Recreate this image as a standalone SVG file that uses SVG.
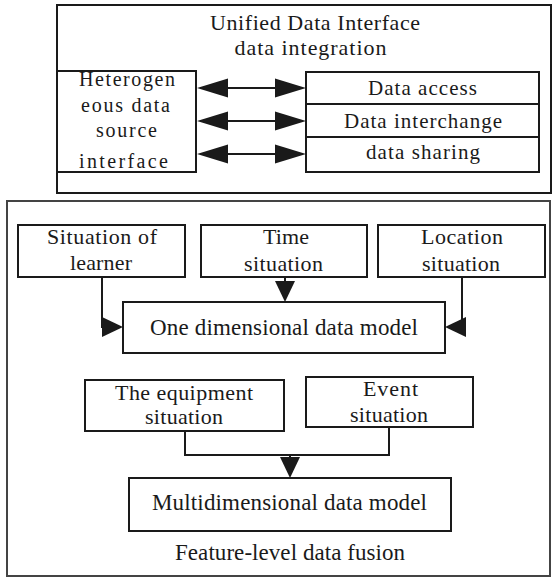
<svg xmlns="http://www.w3.org/2000/svg" width="553" height="578" viewBox="0 0 553 578">
  <style>
    .box { fill: #ffffff; stroke: #1a1a1a; stroke-width: 2; }
    .frame { fill: none; stroke: #1a1a1a; stroke-width: 2; }
    .frame2 { fill: none; stroke: #444444; stroke-width: 2; }
    .conn { fill: none; stroke: #1a1a1a; stroke-width: 2; }
    text { font-family: "Liberation Serif", "Times New Roman", serif; fill: #1a1a1a; text-anchor: middle; }
    .t22 { font-size: 22px; }
    .t23 { font-size: 23px; }
    .t21 { font-size: 21px; }
    .t20 { font-size: 20px; }
  </style>
  <defs>
    <marker id="headBig" markerUnits="userSpaceOnUse" markerWidth="31" markerHeight="19" refX="28" refY="9.5" orient="auto-start-reverse" overflow="visible">
      <path d="M0,0 L31,9.5 L0,19 Z" fill="#1a1a1a"/>
    </marker>
    <marker id="head" markerUnits="userSpaceOnUse" markerWidth="21" markerHeight="20" refX="18" refY="10" orient="auto" overflow="visible">
      <path d="M0,0 L21,10 L0,20 Z" fill="#1a1a1a"/>
    </marker>
  </defs>

  <!-- upper block: unified data interface -->
  <g id="integration">
    <rect class="frame" x="57" y="5" width="494" height="188"/>
    <text class="t22" x="315" y="30" textLength="210" lengthAdjust="spacing">Unified Data Interface</text>
    <text class="t22" x="310.5" y="55" textLength="152" lengthAdjust="spacing">data integration</text>
  </g>

  <g id="heterogeneous">
    <rect class="box" x="57" y="71" width="139" height="101"/>
    <text class="t20" x="127" y="86" textLength="96" lengthAdjust="spacing">Heterogen</text>
    <text class="t20" x="125.5" y="112" textLength="89" lengthAdjust="spacing">eous data</text>
    <text class="t20" x="126.5" y="137" textLength="61" lengthAdjust="spacing">source</text>
    <text class="t20" x="123.5" y="168" textLength="89" lengthAdjust="spacing">interface</text>
  </g>

  <g id="data-access">
    <rect class="box" x="306" y="72" width="233" height="32"/>
    <text class="t21" x="422.5" y="95" textLength="109" lengthAdjust="spacing">Data access</text>
  </g>
  <g id="data-interchange">
    <rect class="box" x="306" y="104" width="233" height="33"/>
    <text class="t21" x="423" y="128" textLength="158" lengthAdjust="spacing">Data interchange</text>
  </g>
  <g id="data-sharing">
    <rect class="box" x="306" y="137" width="233" height="35"/>
    <text class="t21" x="423" y="159" textLength="114" lengthAdjust="spacing">data sharing</text>
  </g>

  <!-- lower block: feature-level fusion -->
  <g id="fusion">
    <rect class="frame2" x="7" y="201" width="543" height="375"/>
    <text class="t23" x="290" y="560" textLength="230" lengthAdjust="spacing">Feature-level data fusion</text>
  </g>

  <g id="learner">
    <rect class="box" x="18" y="225" width="167" height="52"/>
    <text class="t22" x="102" y="244" textLength="110" lengthAdjust="spacing">Situation of</text>
    <text class="t22" x="101" y="270" textLength="62" lengthAdjust="spacing">learner</text>
  </g>
  <g id="time">
    <rect class="box" x="201" y="225" width="166" height="52"/>
    <text class="t22" x="286" y="244" textLength="46" lengthAdjust="spacing">Time</text>
    <text class="t22" x="283.5" y="271" textLength="79" lengthAdjust="spacing">situation</text>
  </g>
  <g id="location">
    <rect class="box" x="378" y="225" width="167" height="52"/>
    <text class="t22" x="462" y="244" textLength="82" lengthAdjust="spacing">Location</text>
    <text class="t22" x="461" y="271" textLength="78" lengthAdjust="spacing">situation</text>
  </g>
  <g id="one-dimensional">
    <rect class="box" x="123" y="302" width="322" height="51"/>
    <text class="t23" x="284" y="335" textLength="268" lengthAdjust="spacing">One dimensional data model</text>
  </g>
  <g id="equipment">
    <rect class="box" x="85" y="380" width="199" height="51"/>
    <text class="t22" x="184" y="400" textLength="138" lengthAdjust="spacing">The equipment</text>
    <text class="t22" x="184" y="424" textLength="78" lengthAdjust="spacing">situation</text>
  </g>
  <g id="event">
    <rect class="box" x="306" y="377" width="167" height="50"/>
    <text class="t22" x="390.5" y="396" textLength="55" lengthAdjust="spacing">Event</text>
    <text class="t22" x="389" y="422" textLength="78" lengthAdjust="spacing">situation</text>
  </g>
  <g id="multidimensional">
    <rect class="box" x="129" y="478" width="322" height="53"/>
    <text class="t23" x="289.5" y="510" textLength="275" lengthAdjust="spacing">Multidimensional data model</text>
  </g>

  <g id="connectors">
    <path class="conn" d="M200,88 H303" marker-start="url(#headBig)" marker-end="url(#headBig)"/>
    <path class="conn" d="M200,121 H303" marker-start="url(#headBig)" marker-end="url(#headBig)"/>
    <path class="conn" d="M200,154 H303" marker-start="url(#headBig)" marker-end="url(#headBig)"/>
    <path class="conn" d="M102,277 V327 H120" marker-end="url(#head)"/>
    <path class="conn" d="M285,277 V299" marker-end="url(#head)"/>
    <path class="conn" d="M462,277 V327 H448" marker-end="url(#head)"/>
    <path class="conn" d="M185,431 V455 H389 V427"/>
    <path class="conn" d="M290,455 V475" marker-end="url(#head)"/>
  </g>
</svg>
